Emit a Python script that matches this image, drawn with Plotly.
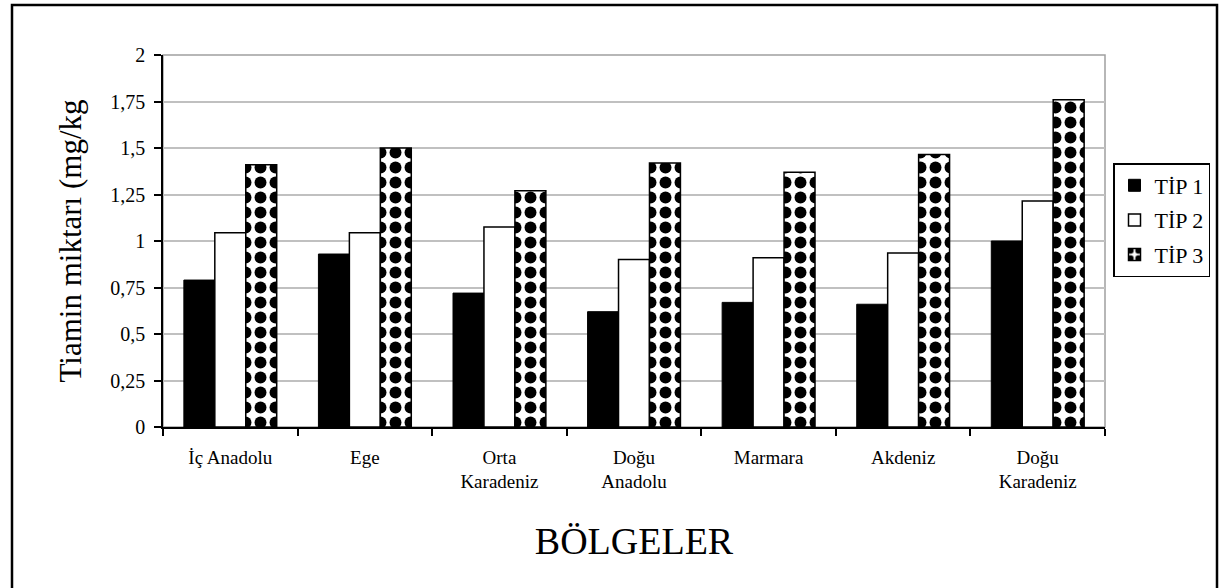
import plotly.graph_objects as go

categories = ["İç Anadolu", "Ege", "Orta<br>Karadeniz", "Doğu<br>Anadolu",
              "Marmara", "Akdeniz", "Doğu<br>Karadeniz"]
tip1 = [0.79, 0.93, 0.72, 0.62, 0.67, 0.66, 1.00]
tip2 = [1.045, 1.045, 1.075, 0.90, 0.91, 0.935, 1.215]
tip3 = [1.41, 1.50, 1.27, 1.42, 1.37, 1.465, 1.76]
y_ticks = [0, 0.25, 0.5, 0.75, 1, 1.25, 1.5, 1.75, 2]
y_ticktext = ["0", "0,25", "0,5", "0,75", "1", "1,25", "1,5", "1,75", "2"]

FONT = "Liberation Serif, Times New Roman, serif"

fig = go.Figure()
fig.add_trace(go.Bar(name="TİP 1", x=categories, y=tip1, legendgroup="a",
                     marker=dict(color="black", line=dict(color="black", width=1))))
fig.add_trace(go.Bar(name="TİP 2", x=categories, y=tip2, legendgroup="b",
                     marker=dict(color="white", line=dict(color="black", width=1.5))))
fig.add_trace(go.Bar(name="TİP 3", x=categories, y=tip3, legendgroup="c",
                     marker=dict(color="white", line=dict(color="black", width=1.5),
                                 pattern=dict(shape=".", fgcolor="black", bgcolor="white",
                                              fgopacity=1, size=15, solidity=0.5,
                                              fillmode="overlay"))))

W, H = 1219, 588
L, R, T, B = 163, 114, 55, 161
pw, ph = W - L - R, H - T - B

def px(x):
    return (x - L) / pw

def py(y):
    return (H - B - y) / ph

fig.update_layout(
    width=W, height=H,
    margin=dict(l=L, r=R, t=T, b=B, autoexpand=False),
    paper_bgcolor="white", plot_bgcolor="white",
    barmode="group", bargap=0.31, bargroupgap=0,
    font=dict(family=FONT, color="black"),
    showlegend=True,
    legend=dict(x=px(1113), y=py(163), xanchor="left", yanchor="top",
                bordercolor="black", borderwidth=1.5, bgcolor="white",
                font=dict(size=22, family=FONT), tracegroupgap=3,
                itemwidth=30),
    xaxis=dict(type="category", showline=True, linecolor="black", linewidth=1.5,
               ticks="outside", tickson="boundaries", ticklen=7, tickcolor="black",
               tickwidth=1.5, tickfont=dict(size=19, family=FONT),
               ticklabelstandoff=12,
               showgrid=False, zeroline=False,
               title=dict(text="BÖLGELER", font=dict(size=38, family=FONT), standoff=36)),
    yaxis=dict(range=[0, 2], tickvals=y_ticks, ticktext=y_ticktext,
               showline=True, linecolor="black", linewidth=1.5,
               ticks="outside", ticklen=7, tickcolor="black", tickwidth=1.5,
               tickfont=dict(size=20, family=FONT), ticklabelstandoff=5,
               showgrid=True, gridcolor="#c0c0c0", gridwidth=1.5, zeroline=False,
               title=dict(text="Tiamin miktarı (mg/kg", font=dict(size=31, family=FONT),
                          standoff=19)),
    shapes=[
        dict(type="rect", xref="paper", yref="paper", x0=0, x1=1, y0=0, y1=1,
             line=dict(color="#a0a0a0", width=1.5), layer="below"),
        dict(type="rect", xref="paper", yref="paper", x0=px(12), x1=px(1217),
             y0=py(595), y1=py(5), line=dict(color="black", width=2.5), layer="below"),
    ],
)

fig.write_html("out.html", config={"displayModeBar": False},
               post_script="document.body.style.margin='0';")
